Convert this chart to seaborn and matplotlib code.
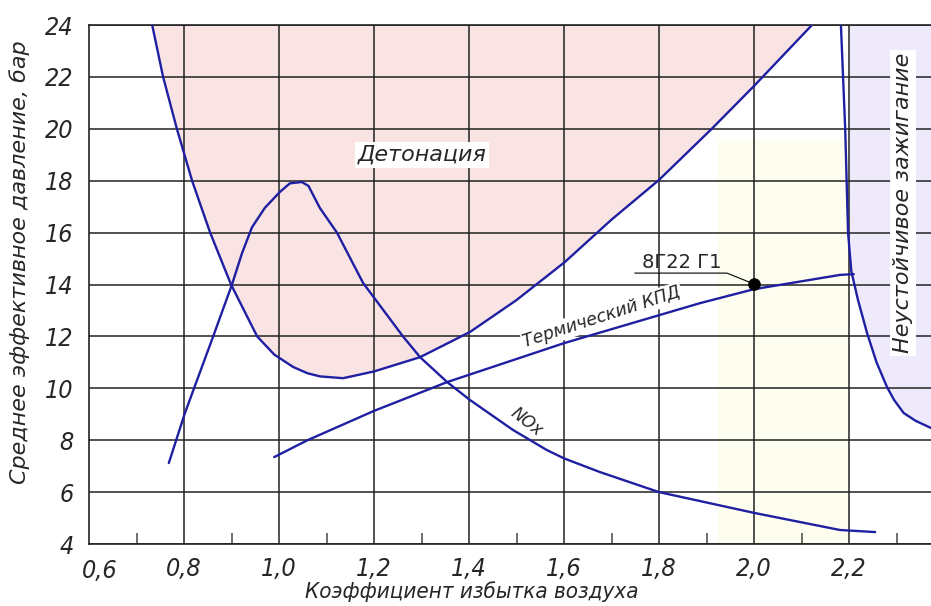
import matplotlib
matplotlib.use("Agg")
import matplotlib.pyplot as plt
import numpy as np
import seaborn as sns

# Axis ticks
x_ticks = [0.8, 1.0, 1.2, 1.4, 1.6, 1.8, 2.0, 2.2]
x_tick_labels = ["0,8", "1,0", "1,2", "1,4", "1,6", "1,8", "2,0", "2,2"]
x_minor = [0.7, 0.9, 1.1, 1.3, 1.5, 1.7, 1.9, 2.1, 2.3]
y_ticks = [4, 6, 8, 10, 12, 14, 16, 18, 20, 22, 24]
y_tick_labels = ["4", "6", "8", "10", "12", "14", "16", "18", "20", "22", "24"]

# Knock boundary (Детонация)
knock_x = [0.733, 0.756, 0.785, 0.817, 0.855, 0.899, 0.954, 0.99, 1.03, 1.06, 1.086, 1.135,
           1.20, 1.297, 1.402, 1.50, 1.602, 1.70, 1.80, 1.911, 2.0, 2.122]
knock_y = [24.0, 22.0, 20.0, 18.0, 16.0, 14.0, 12.0, 11.3, 10.82, 10.58, 10.46, 10.39,
           10.65, 11.2, 12.17, 13.4, 14.87, 16.5, 18.03, 20.0, 21.65, 24.0]

# Lean misfire boundary (Неустойчивое зажигание)
misfire_x = [2.183, 2.192, 2.198, 2.205, 2.219, 2.238, 2.258, 2.28, 2.295, 2.315, 2.34, 2.375]
misfire_y = [24.0, 20.0, 16.0, 14.5, 13.4, 12.13, 11.0, 10.05, 9.55, 9.05, 8.75, 8.45]

# NOx
nox_x = [0.768, 0.802, 0.861, 0.901, 0.922, 0.943, 0.97, 1.002, 1.023, 1.048, 1.062, 1.086,
         1.122, 1.177, 1.261, 1.297, 1.354, 1.402, 1.493, 1.564, 1.6, 1.676, 1.8, 2.0, 2.181, 2.255]
nox_y = [7.12, 9.05, 11.98, 14.0, 15.2, 16.2, 16.95, 17.57, 17.9, 17.95, 17.8, 16.95,
         16.0, 14.06, 12.0, 11.2, 10.24, 9.55, 8.39, 7.62, 7.3, 6.77, 6.0, 5.2, 4.54, 4.46]

# Thermal efficiency (Термический КПД)
thermal_x = [0.99, 1.06, 1.2, 1.354, 1.6, 1.886, 2.0, 2.181, 2.21]
thermal_y = [7.35, 8.0, 9.13, 10.24, 11.74, 13.28, 13.82, 14.37, 14.4]

# Engine point
point_x = [2.0]
point_y = [14.02]

sns.set_style("white")
plt.rcParams["font.family"] = ["DejaVu Sans"]

line_c = "#1f1fa2"
fig = plt.figure(figsize=(9.31, 6.06), dpi=100)
ax = fig.add_axes([0.0956, 0.1023, 0.9044, 0.8564])
xmax = 0.6 + 842 / 475
ax.set_xlim(0.6, xmax)
ax.set_ylim(4, 24)

# shaded zones
ax.axvspan(1.925, 2.2, ymin=0, ymax=0.78, color="#fefef0", zorder=0.1, lw=0)
ax.fill_between(knock_x, knock_y, 24, color="#fae3e3", zorder=0.2, lw=0)
ax.fill_betweenx(misfire_y, np.maximum(misfire_x, 2.2), xmax, color="#efeafb", zorder=0.2, lw=0)

for xs, ys in [(knock_x, knock_y), (misfire_x, misfire_y), (nox_x, nox_y), (thermal_x, thermal_y)]:
    sns.lineplot(x=xs, y=ys, sort=False, estimator=None, color=line_c, lw=1.7, ax=ax, zorder=3)

sns.scatterplot(x=point_x, y=point_y, color="black", s=70, ax=ax, zorder=5, edgecolor="black")

# grid
ax.set_xticks(x_ticks)
ax.set_xticklabels(x_tick_labels)
ax.set_xticks(x_minor, minor=True)
ax.set_yticks(y_ticks)
ax.set_yticklabels(y_tick_labels)
ax.grid(True, which="major", color="#222222", lw=1.1)
ax.tick_params(axis="both", which="major", length=0, labelsize=18)
ax.tick_params(axis="x", which="major", pad=9)
ax.tick_params(axis="y", which="major", pad=11)
ax.tick_params(axis="x", which="minor", direction="in", length=8, width=1.2, color="#555555", bottom=True)
for lab in ax.get_xticklabels() + ax.get_yticklabels():
    lab.set_style("italic")
    lab.set_stretch("condensed")
# the 0,6 label sits at the left edge
ax.text(0.622, -0.028, "0,6", transform=ax.get_xaxis_transform(), ha="center", va="top",
        fontsize=18, style="italic", stretch="condensed")

for s in ["left", "bottom", "top"]:
    ax.spines[s].set_color("#222222")
    ax.spines[s].set_linewidth(1.2)
ax.spines["right"].set_visible(False)

ax.set_xlabel("Коэффициент избытка воздуха", fontsize=16, style="italic", va="center",
              stretch="condensed")
ax.xaxis.set_label_coords(0.454, -0.092)
ax.set_ylabel("Среднее эффективное давление, бар", fontsize=16, style="italic", va="center")
ax.yaxis.set_label_coords(-0.082, 0.543)

white = dict(facecolor="white", edgecolor="none", pad=2)
ax.text(1.301, 18.99, "Детонация", fontsize=16, style="italic", ha="center", va="center",
        bbox=white, zorder=4)
ax.text(2.314, 17.14, "Неустойчивое зажигание", fontsize=16, style="italic", rotation=90,
        ha="center", va="center", bbox=white, zorder=4)
ax.text(1.68, 12.75, "Термический КПД", fontsize=12.5, style="italic", rotation=18,
        ha="center", va="center", bbox=dict(facecolor="white", edgecolor="none", pad=1), zorder=4)
ax.text(1.522, 8.7, "NOx", fontsize=12, style="italic", rotation=-38,
        ha="center", va="center", zorder=4)

ax.text(1.848, 14.83, "8Г22 Г1", fontsize=14, ha="center", va="center", zorder=4)
ax.plot([1.749, 1.943, 2.0], [14.44, 14.44, 14.02], color="black", lw=0.8, zorder=4)

fig.savefig("out.png", dpi=100)
